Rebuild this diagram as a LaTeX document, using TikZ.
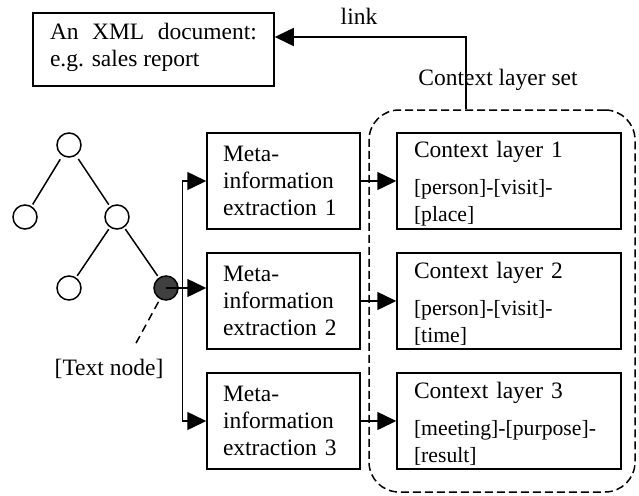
\documentclass[tikz,border=0pt]{standalone}
\usepackage{fontspec}
\setmainfont{Liberation Serif}
\usetikzlibrary{arrows.meta,calc}
\newcommand{\bigtxt}{\fontsize{23.5}{27}\selectfont}
\newcommand{\smalltxt}{\fontsize{21.7}{25}\selectfont}

\begin{document}
\begin{tikzpicture}[x=1pt,y=-1pt,
  every node/.style={font=\bigtxt},
  box/.style={draw, line width=1.5pt, rectangle, inner ysep=0pt, align=left},
  metabox/.style={box, minimum width=153pt, minimum height=96pt, text width=121pt, inner xsep=16pt},
  ctxbox/.style={box, minimum width=224pt, minimum height=96pt, text width=190pt, inner xsep=17pt},
  tnode/.style={circle, draw, line width=1.5pt, minimum size=24pt, inner sep=0pt},
  edge/.style={line width=1.5pt},
  arr/.style={line width=1.5pt, -{Triangle[length=19pt,width=18pt]}},
]
\useasboundingbox (0,0) rectangle (639,495);

% dashed group of context layers
\node[draw, line width=1.5pt, dash pattern=on 8pt off 4pt, rounded corners=30pt,
      minimum width=266pt, minimum height=382pt] (set) at (502,301) {};
\node[anchor=base] (setlbl) at (498,85) {Context layer set};

% source document
\node[box, minimum width=241pt, minimum height=73pt, text width=207pt,
      inner xsep=17pt, align=justify] (xml) at (153.5,49.5)
      {An XML document: e.g. sales report\rule[-9pt]{0pt}{0pt}};

% extraction boxes
\node[metabox] (m1) at (283.5,181) {Meta-\\information\\extraction 1};
\node[metabox] (m2) at (283.5,301) {Meta-\\information\\extraction 2};
\node[metabox] (m3) at (283.5,421) {Meta-\\information\\extraction 3};

% context layers
\node[ctxbox] (c1) at (509,181) {\rule{0pt}{22pt}Context layer 1\\[12pt]\smalltxt [person]-[visit]-\\{}[place]};
\node[ctxbox] (c2) at (509,301) {\rule{0pt}{22pt}Context layer 2\\[12pt]\smalltxt [person]-[visit]-\\{}[time]};
\node[ctxbox] (c3) at (509,421) {\rule{0pt}{22pt}Context layer 3\\[12pt]\smalltxt [meeting]-[purpose]-\\{}[result]};

% document tree
\node[tnode] (r) at (69,145) {};
\node[tnode] (a) at (25,217) {};
\node[tnode] (b) at (117,217) {};
\node[tnode] (c) at (69,288) {};
\node[tnode, fill=black!75] (t) at (166,288) {};
\draw[edge, shorten <=4pt, shorten >=2pt] (r) -- (a);
\draw[edge, shorten <=4pt, shorten >=2pt] (r) -- (b);
\draw[edge, shorten <=2pt, shorten >=2pt] (b) -- (c);
\draw[edge, shorten <=2pt, shorten >=2pt] (b) -- (t);

% text node label
\coordinate (tp) at (135,345);
\draw[edge, dash pattern=on 8pt off 5pt, shorten <=3pt] (t) -- (tp);
\node[anchor=base] (tlbl) at (109,375) {[Text node]};

% arrows into extraction boxes
\draw[arr] (t.center) -- (t.center -| m2.west);
\draw[line width=1.5pt, {Triangle[length=19pt,width=18pt]}-{Triangle[length=19pt,width=18pt]}]
  (m1.west) -- ++(-24,0) |- (m3.west);

% arrows into context layers
\draw[arr] (m1.east) -- (c1.west);
\draw[arr] (m2.east) -- (c2.west);
\draw[arr] (m3.east) -- (c3.west);

% link back to the document
\coordinate (lk) at (466,37);
\draw[arr] (lk |- set.north) -- (lk) -- (lk -| xml.east);
\node[anchor=base] (lklbl) at (359,25) {link};
\end{tikzpicture}
\end{document}
